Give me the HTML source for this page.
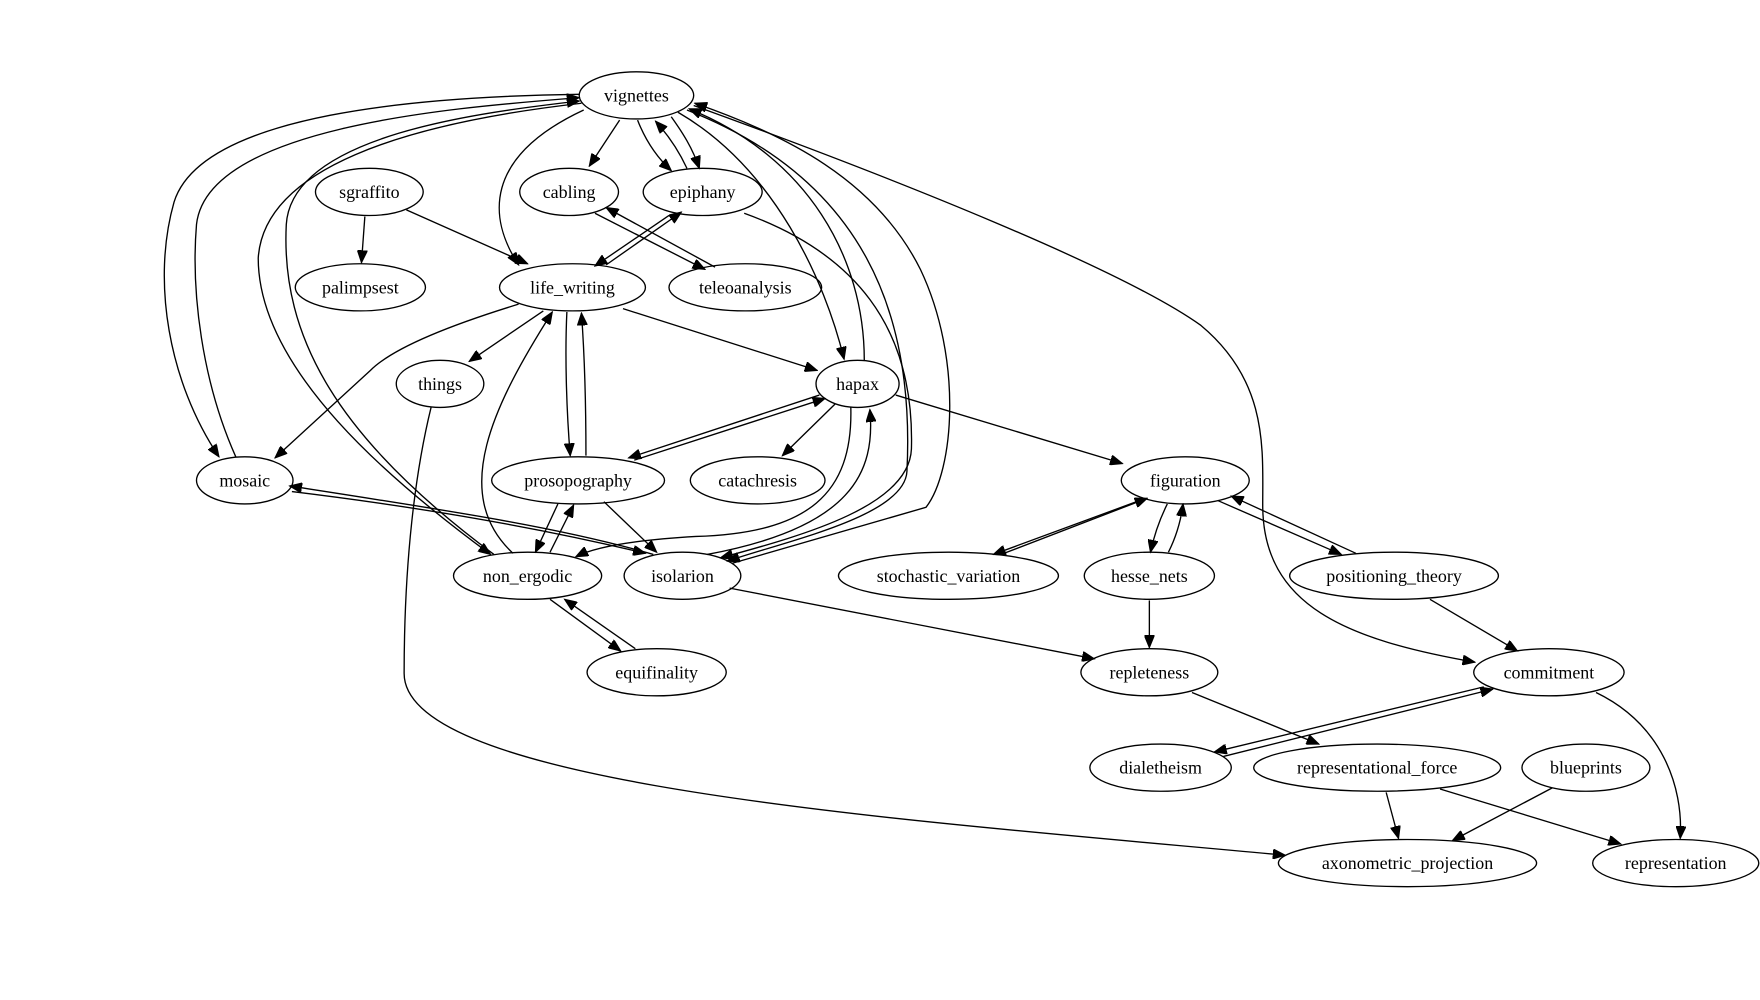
<!DOCTYPE html>
<html><head><meta charset="utf-8"><style>
html,body{margin:0;padding:0;background:#fff;}
svg{display:block;}
text{font-family:"Liberation Serif",serif;font-size:16px;text-anchor:middle;dominant-baseline:central;fill:#000;}
ellipse{fill:none;stroke:#000;stroke-width:1.2;}
path{fill:none;stroke:#000;stroke-width:1.2;}
</style></head><body>
<svg width="1760" height="1000" viewBox="0 0 1568 891" xmlns="http://www.w3.org/2000/svg">
<defs><marker id="a" markerWidth="12" markerHeight="9" refX="11" refY="4.5" orient="auto" markerUnits="userSpaceOnUse"><path d="M0,0 L11,4.5 L0,9 Z" style="fill:#000;stroke:#000;stroke-width:1"/></marker></defs>
<g marker-end="url(#a)">
<path d="M552,107 L525,148"/>
<path d="M568,107 C575,125 585,140 598,152"/>
<path d="M612,150 C605,135 595,120 584,108"/>
<path d="M598,104 C608,118 617,132 623,150"/>
<path d="M520,98 C430,140 435,195 462,236"/>
<path d="M604,100 C690,150 735,250 752,320"/>
<path d="M770,321 C770,230 720,140 614,97"/>
<path d="M612,98 C770,160 815,280 808,420 C806,460 700,482 648,500"/>
<path d="M652,502 L825,452 C850,420 858,320 820,240 C780,160 700,120 619,92"/>
<path d="M663,190 C760,225 815,290 812,400 C810,450 720,476 642,497"/>
<path d="M618,94 C800,160 1000,240 1070,290 C1130,340 1125,400 1125,450 C1125,540 1200,570 1314,590"/>
<path d="M210,407 C180,340 170,260 175,200 C185,110 420,95 516,87"/>
<path d="M516,84 C380,86 180,100 155,180 C135,250 150,340 195,407"/>
<path d="M440,494 C300,390 250,300 255,200 C260,120 430,100 516,90"/>
<path d="M518,92 C360,110 235,150 230,230 C230,330 350,430 437,494"/>
<path d="M325,193 L322,234"/>
<path d="M362,187 L470,235"/>
<path d="M530,190 L628,240"/>
<path d="M637,238 L540,185"/>
<path d="M540,236 L607,189"/>
<path d="M596,192 L530,237"/>
<path d="M484,277 L418,322"/>
<path d="M462,271 C400,290 350,310 330,330 L245,408"/>
<path d="M555,275 L728,330"/>
<path d="M505,278 C503,320 505,370 508,406"/>
<path d="M522,406 C522,360 521,320 518,279"/>
<path d="M457,493 C400,440 440,360 492,278"/>
<path d="M384,363 C370,420 360,500 360,600 C360,700 800,730 1145,762"/>
<path d="M730,352 L560,408"/>
<path d="M565,410 L735,355"/>
<path d="M744,360 L697,406"/>
<path d="M798,352 L1000,413"/>
<path d="M758,363 C760,440 720,475 620,478 C550,482 525,490 513,496"/>
<path d="M630,494 C760,470 780,420 775,365"/>
<path d="M497,449 L477,492"/>
<path d="M490,492 L511,450"/>
<path d="M538,447 L585,492"/>
<path d="M582,494 C500,470 400,455 258,433"/>
<path d="M260,438 C400,455 500,475 575,493"/>
<path d="M490,534 L553,580"/>
<path d="M566,578 L503,534"/>
<path d="M1018,445 L885,494"/>
<path d="M892,494 L1022,444"/>
<path d="M1040,449 C1032,465 1028,478 1025,492"/>
<path d="M1041,492 C1048,478 1052,465 1054,449"/>
<path d="M1085,446 L1195,494"/>
<path d="M1208,493 L1097,442"/>
<path d="M1024,535 L1024,577"/>
<path d="M650,524 L975,587"/>
<path d="M1274,534 L1352,580"/>
<path d="M1322,612 L1082,670"/>
<path d="M1090,674 L1330,614"/>
<path d="M1062,617 L1175,663"/>
<path d="M1422,617 C1480,645 1500,700 1497,747"/>
<path d="M1235,706 L1246,747"/>
<path d="M1283,703 L1444,752"/>
<path d="M1383,702 L1294,749"/>
</g>
<g>
<ellipse cx="567" cy="85" rx="51" ry="21"/><text x="567" y="85">vignettes</text>
<ellipse cx="329" cy="171" rx="48" ry="21"/><text x="329" y="171">sgraffito</text>
<ellipse cx="507" cy="171" rx="44" ry="21"/><text x="507" y="171">cabling</text>
<ellipse cx="626" cy="171" rx="53" ry="21"/><text x="626" y="171">epiphany</text>
<ellipse cx="321" cy="256" rx="58" ry="21"/><text x="321" y="256">palimpsest</text>
<ellipse cx="510" cy="256" rx="65" ry="21"/><text x="510" y="256">life_writing</text>
<ellipse cx="664" cy="256" rx="68" ry="21"/><text x="664" y="256">teleoanalysis</text>
<ellipse cx="392" cy="342" rx="39" ry="21"/><text x="392" y="342">things</text>
<ellipse cx="764" cy="342" rx="37" ry="21"/><text x="764" y="342">hapax</text>
<ellipse cx="218" cy="428" rx="43" ry="21"/><text x="218" y="428">mosaic</text>
<ellipse cx="515" cy="428" rx="77" ry="21"/><text x="515" y="428">prosopography</text>
<ellipse cx="675" cy="428" rx="60" ry="21"/><text x="675" y="428">catachresis</text>
<ellipse cx="1056" cy="428" rx="57" ry="21"/><text x="1056" y="428">figuration</text>
<ellipse cx="470" cy="513" rx="66" ry="21"/><text x="470" y="513">non_ergodic</text>
<ellipse cx="608" cy="513" rx="52" ry="21"/><text x="608" y="513">isolarion</text>
<ellipse cx="845" cy="513" rx="98" ry="21"/><text x="845" y="513">stochastic_variation</text>
<ellipse cx="1024" cy="513" rx="58" ry="21"/><text x="1024" y="513">hesse_nets</text>
<ellipse cx="1242" cy="513" rx="93" ry="21"/><text x="1242" y="513">positioning_theory</text>
<ellipse cx="585" cy="599" rx="62" ry="21"/><text x="585" y="599">equifinality</text>
<ellipse cx="1024" cy="599" rx="61" ry="21"/><text x="1024" y="599">repleteness</text>
<ellipse cx="1380" cy="599" rx="67" ry="21"/><text x="1380" y="599">commitment</text>
<ellipse cx="1034" cy="684" rx="63" ry="21"/><text x="1034" y="684">dialetheism</text>
<ellipse cx="1227" cy="684" rx="110" ry="21"/><text x="1227" y="684">representational_force</text>
<ellipse cx="1413" cy="684" rx="57" ry="21"/><text x="1413" y="684">blueprints</text>
<ellipse cx="1254" cy="769" rx="115" ry="21"/><text x="1254" y="769">axonometric_projection</text>
<ellipse cx="1493" cy="769" rx="74" ry="21"/><text x="1493" y="769">representation</text>
</g>
</svg>
</body></html>
